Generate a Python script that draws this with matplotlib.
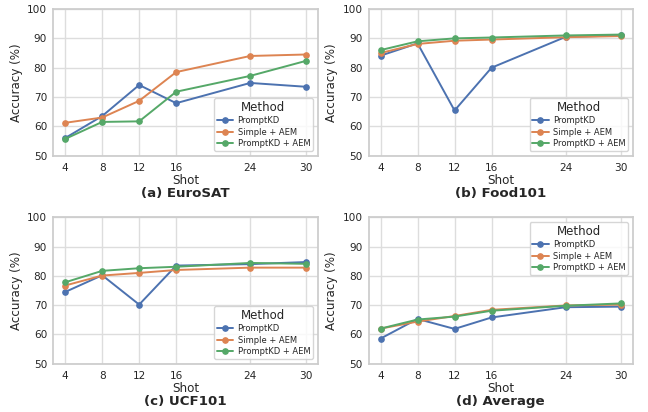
import matplotlib
matplotlib.use('Agg')
import matplotlib.pyplot as plt
import seaborn as sns

sns.set_theme(style='whitegrid', palette='deep')

shots = [4, 8, 12, 16, 24, 30]
methods = ['PromptKD', 'Simple + AEM', 'PromptKD + AEM']

# values
eurosat_promptkd = [56.0, 63.5, 74.1, 67.9, 74.8, 73.5]
eurosat_simple = [61.2, 63.0, 68.7, 78.5, 84.0, 84.5]
eurosat_pkd_aem = [55.7, 61.5, 61.7, 71.8, 77.2, 82.3]

food_promptkd = [84.1, 88.3, 65.4, 80.0, 90.5, 91.0]
food_simple = [85.0, 88.1, 89.2, 89.6, 90.4, 90.8]
food_pkd_aem = [86.0, 89.0, 90.0, 90.3, 91.0, 91.3]

ucf_promptkd = [74.5, 80.2, 70.2, 83.5, 84.0, 84.7]
ucf_simple = [76.7, 80.1, 81.0, 82.0, 82.8, 82.8]
ucf_pkd_aem = [77.8, 81.7, 82.6, 83.1, 84.4, 84.1]

avg_promptkd = [58.6, 65.3, 61.9, 65.8, 69.3, 69.5]
avg_simple = [62.0, 64.4, 66.3, 68.4, 69.9, 70.2]
avg_pkd_aem = [62.0, 65.1, 66.1, 68.1, 69.8, 70.6]

panels = [
    ('(a) EuroSAT', [eurosat_promptkd, eurosat_simple, eurosat_pkd_aem], 'lower right'),
    ('(b) Food101', [food_promptkd, food_simple, food_pkd_aem], 'lower right'),
    ('(c) UCF101', [ucf_promptkd, ucf_simple, ucf_pkd_aem], 'lower right'),
    ('(d) Average', [avg_promptkd, avg_simple, avg_pkd_aem], 'upper right'),
]

colors = sns.color_palette('deep')

fig, axs = plt.subplots(2, 2, figsize=(6.48, 4.12), dpi=100)
fig.subplots_adjust(left=0.082, right=0.977, top=0.978, bottom=0.117,
                    wspace=0.192, hspace=0.42)

for ax, (title, series, loc) in zip(axs.flat, panels):
    for k, (name, vals) in enumerate(zip(methods, series)):
        ax.plot(shots, vals, marker='o', markersize=3.8, linewidth=1.4,
                color=colors[k], label=name)
    ax.set_ylim(50, 100)
    ax.set_yticks([50, 60, 70, 80, 90, 100])
    ax.set_xticks(shots)
    ax.grid(color='#dddddd')
    ax.tick_params(axis='x', labelsize=7.6, length=0, pad=5)
    ax.tick_params(axis='y', labelsize=7.6, length=0, pad=4.3)
    ax.set_xlabel('Shot', fontsize=8.6, labelpad=1)
    ax.set_ylabel('Accuracy (%)', fontsize=8.6, labelpad=3)
    ax.text(0.5, -0.26, title, transform=ax.transAxes, ha='center', va='center',
            fontsize=9.6, fontweight='bold')
    ax.legend(title='Method', loc=loc, fontsize=6, title_fontsize=8.5,
              borderpad=0.3, labelspacing=0.3, handlelength=2.0,
              handletextpad=0.5, borderaxespad=0.6)

fig.savefig('out.png', dpi=100)
